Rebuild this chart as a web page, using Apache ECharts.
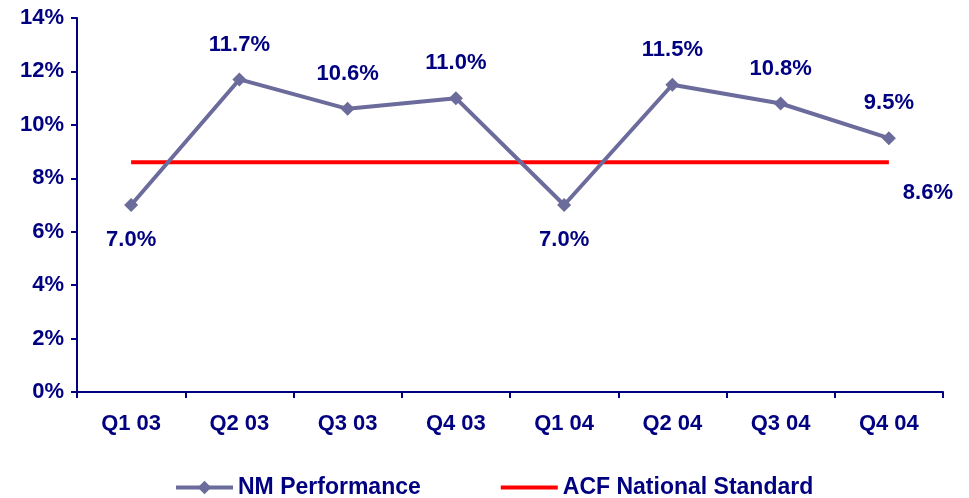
<!DOCTYPE html>
<html>
<head>
<meta charset="utf-8">
<script src="https://cdn.jsdelivr.net/npm/echarts@6/dist/echarts.min.js"></script>
<style>
  html, body { margin: 0; padding: 0; background: #fff; }
  #chart { width: 969px; height: 498px; }
</style>
</head>
<body>
<div id="chart"></div>
<script>
// Quarterly categories and series values (percent)
const quarters = ['Q1 03', 'Q2 03', 'Q3 03', 'Q4 03', 'Q1 04', 'Q2 04', 'Q3 04', 'Q4 04'];
const nmPerformance = [7.0, 11.7, 10.6, 11.0, 7.0, 11.5, 10.8, 9.5];
const acfStandard = [8.6, 8.6, 8.6, 8.6, 8.6, 8.6, 8.6, 8.6];
// Quarters where the performance label sits below the point
const labelBelow = ['Q1 03', 'Q1 04'];

const navy = '#000080';
const font = 'Liberation Sans, Arial, sans-serif';
const clear = 'rgba(0,0,0,0)';

const chart = echarts.init(document.getElementById('chart'), null, { renderer: 'canvas' });

const nmData = nmPerformance.map((v, i) => ({
  value: v,
  label: labelBelow.includes(quarters[i])
    ? { position: 'bottom', distance: 17 }
    : { position: 'top', distance: 17 }
}));

// Only the last point of the standard line carries an invisible marker and its value label
const acfData = acfStandard.map((v, i) => (
  i === acfStandard.length - 1
    ? {
        value: v,
        symbol: 'circle',
        symbolSize: 1,
        itemStyle: { color: clear, borderWidth: 0 },
        label: { show: true, position: 'inside', offset: [39, 31] }
      }
    : { value: v }
));

const labelText = {
  color: navy,
  fontFamily: font,
  fontWeight: 'bold',
  fontSize: 22,
  formatter: p => p.value.toFixed(1) + '%'
};

chart.setOption({
  animation: false,
  grid: { left: 77, right: 26, top: 18, bottom: 106, containLabel: false },
  xAxis: {
    type: 'category',
    data: quarters,
    boundaryGap: true,
    axisLine: { lineStyle: { color: navy, width: 2 } },
    axisTick: { show: true, length: 6, lineStyle: { color: navy, width: 2 } },
    axisLabel: { color: navy, fontFamily: font, fontWeight: 'bold', fontSize: 22, margin: 21 },
    splitLine: { show: false }
  },
  yAxis: {
    type: 'value',
    min: 0,
    max: 14,
    interval: 2,
    axisLine: { show: true, lineStyle: { color: navy, width: 2 } },
    axisTick: { show: true, length: 6, lineStyle: { color: navy, width: 2 } },
    axisLabel: { color: navy, fontFamily: font, fontWeight: 'bold', fontSize: 22, margin: 13,
      formatter: v => v + '%' },
    splitLine: { show: false }
  },
  legend: {
    top: 471,
    left: 169,
    itemWidth: 57,
    itemHeight: 17,
    itemGap: 78,
    lineStyle: { width: 4 },
    textStyle: { color: navy, fontFamily: font, fontWeight: 'bold', fontSize: 23 },
    data: [
      { name: 'NM Performance' },
      { name: 'ACF National Standard', itemStyle: { color: clear, borderWidth: 0 } }
    ]
  },
  series: [
    {
      name: 'ACF National Standard',
      type: 'line',
      data: acfData,
      symbol: 'none',
      lineStyle: { color: '#ff0000', width: 4 },
      itemStyle: { color: '#ff0000' },
      label: Object.assign({ show: false }, labelText),
      z: 2
    },
    {
      name: 'NM Performance',
      type: 'line',
      data: nmData,
      symbol: 'diamond',
      symbolSize: 14,
      lineStyle: { color: '#6b6b9c', width: 4 },
      itemStyle: { color: '#6b6b9c' },
      label: Object.assign({ show: true }, labelText),
      z: 3
    }
  ]
});
</script>
</body>
</html>
